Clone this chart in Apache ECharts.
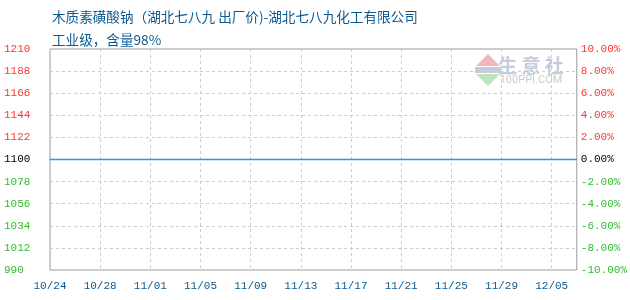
<!DOCTYPE html>
<html><head><meta charset="utf-8">
<script src="https://cdn.jsdelivr.net/npm/echarts@6/dist/echarts.min.js"></script>
<style>html,body{margin:0;padding:0;background:#fff}#c{width:630px;height:300px}</style>
</head><body><div id="c"></div>
<script>
const titleText = '木质素磺酸钠（湖北七八九 出厂价)-湖北七八九化工有限公司';
const subtitleText = '工业级，含量98%';
const categories = ['10/24','10/25','10/26','10/27','10/28','10/29','10/30','10/31',
 '11/01','11/02','11/03','11/04','11/05','11/06','11/07','11/08','11/09','11/10',
 '11/11','11/12','11/13','11/14','11/15','11/16','11/17','11/18','11/19','11/20',
 '11/21','11/22','11/23','11/24','11/25','11/26','11/27','11/28','11/29','11/30',
 '12/01','12/02','12/05','12/06','12/07'];
const priceValues = categories.map(() => 1100);
const leftMin = 990, leftMax = 1210, leftStep = 22;
const rightMin = -10, rightMax = 10, rightStep = 2;

const RED = '#ff3333', GREEN = '#33bb33', BLACK = '#000000', BLUE = '#0a5a92';
const mono = '"Liberation Mono", "DejaVu Sans Mono", monospace';

const chart = echarts.init(document.getElementById('c'));
chart.setOption({
  animation: false,
  backgroundColor: '#fff',
  title: [
    { text: titleText, left: 47, top: 5, textStyle: { fontSize: 13.6, fontWeight: 'normal', color: BLUE, fontFamily: '"Noto Sans CJK SC", sans-serif' } },
    { text: subtitleText, left: 47, top: 28, textStyle: { fontSize: 13.6, fontWeight: 'normal', color: BLUE, fontFamily: '"Noto Sans CJK SC", sans-serif' } }
  ],
  grid: { left: 50, right: 49, top: 49, bottom: 30, show: true, borderColor: '#999', borderWidth: 1, backgroundColor: 'transparent' },
  graphic: [
    { type: 'polygon', z: -1, shape: { points: [[488, 54], [476, 66], [500, 66]] }, style: { fill: '#f4b6b6' } },
    { type: 'rect', z: -1, shape: { x: 475, y: 67, width: 26, height: 6 }, style: { fill: '#c8ccd8' } },
    { type: 'polygon', z: -1, shape: { points: [[476, 74], [500, 74], [488, 86]] }, style: { fill: '#bde4bd' } },
    { type: 'text', z: -1, style: { x: 531, y: 66, text: '生 意 社', fontSize: 19, fontWeight: 'bold', fill: '#c3ccd9', align: 'center', verticalAlign: 'middle', fontFamily: '"Noto Sans CJK SC", sans-serif' } },
    { type: 'text', z: -1, style: { x: 531, y: 80, text: '100PPI.COM', fontSize: 11, fill: '#cccccc', align: 'center', verticalAlign: 'middle', fontFamily: 'Roboto, sans-serif' } }
  ],
  xAxis: {
    type: 'category', data: categories, boundaryGap: false,
    axisLine: { show: true, lineStyle: { color: '#999', width: 1 } },
    axisTick: { show: false },
    axisLabel: { interval: 3, margin: 11, color: BLUE, fontSize: 11, fontFamily: mono },
    splitLine: { show: true, interval: 3, lineStyle: { color: '#cccccc', type: [3, 3], width: 1 } }
  },
  yAxis: [
    {
      type: 'value', min: leftMin, max: leftMax, interval: leftStep, position: 'left',
      axisLine: { show: false }, axisTick: { show: false },
      axisLabel: { margin: 46, align: 'left', fontSize: 11, fontFamily: mono,
        formatter: v => String(v),
        color: v => (+v > 1100 ? RED : (+v < 1100 ? GREEN : BLACK)) },
      splitLine: { show: true, lineStyle: { color: '#cccccc', type: [3, 3], width: 1 } }
    },
    {
      type: 'value', min: rightMin, max: rightMax, interval: rightStep, position: 'right',
      axisLine: { show: false }, axisTick: { show: false },
      axisLabel: { margin: 4, align: 'left', fontSize: 11, fontFamily: mono,
        formatter: v => v.toFixed(2) + '%',
        color: v => (+v > 0 ? RED : (+v < 0 ? GREEN : BLACK)) },
      splitLine: { show: false }
    }
  ],
  series: [{
    type: 'line', data: priceValues, yAxisIndex: 0, showSymbol: false, symbol: 'none',
    lineStyle: { color: '#2f96dc', width: 1.5 }, z: 5
  }]
});
</script></body></html>
